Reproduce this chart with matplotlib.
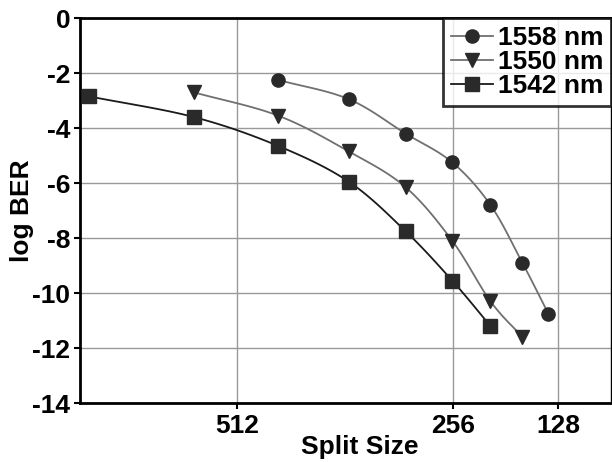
import numpy as np
import matplotlib.pyplot as plt

plt.rcParams['font.family'] = ['Liberation Sans', 'DejaVu Sans']
plt.rcParams['font.weight'] = 'bold'
plt.rcParams['axes.unicode_minus'] = False

# x positions of the measurement points (axis units, 0-100)
x_pos = [1.75, 21.4, 37.3, 50.6, 61.3, 70.1, 77.3, 83.3, 88.2]

# split size tick labels and their positions
split_labels = ['512', '256', '128']
split_pos = [29.6, 70.2, 90.1]

# log BER values per wavelength
ber_1558 = [-2.25, -2.95, -4.2, -5.25, -6.8, -8.9, -10.75]
ber_1550 = [-2.7, -3.55, -4.85, -6.15, -8.1, -10.3, -11.6]
ber_1542 = [-2.85, -3.6, -4.65, -5.95, -7.75, -9.55, -11.2]

x_1558 = x_pos[2:9]
x_1550 = x_pos[1:8]
x_1542 = x_pos[0:7]


def smooth(xs, ys, n=20):
    # catmull-rom curve through the points, like the spreadsheet "smoothed line"
    xs = np.asarray(xs, float)
    ys = np.asarray(ys, float)
    px = np.concatenate([[2 * xs[0] - xs[1]], xs, [2 * xs[-1] - xs[-2]]])
    py = np.concatenate([[2 * ys[0] - ys[1]], ys, [2 * ys[-1] - ys[-2]]])
    ox, oy = [], []
    t = np.linspace(0, 1, n, endpoint=False)
    for i in range(1, len(px) - 2):
        for p, out in ((px, ox), (py, oy)):
            p0, p1, p2, p3 = p[i - 1], p[i], p[i + 1], p[i + 2]
            out.extend(0.5 * ((2 * p1) + (-p0 + p2) * t
                              + (2 * p0 - 5 * p1 + 4 * p2 - p3) * t ** 2
                              + (-p0 + 3 * p1 - 3 * p2 + p3) * t ** 3))
    ox.append(xs[-1])
    oy.append(ys[-1])
    return ox, oy


fig = plt.figure(figsize=(6.12, 4.62), dpi=100)
ax = fig.add_axes([0.1307, 0.1277, 0.8677, 0.8333])

series = [
    (x_1558, ber_1558, 'o', '#707070', '1558 nm'),
    (x_1550, ber_1550, 'v', '#707070', '1550 nm'),
    (x_1542, ber_1542, 's', '#1a1a1a', '1542 nm'),
]
handles = []
for xs, ys, mk, lc, lab in series:
    sx, sy = smooth(xs, ys)
    ax.plot(sx, sy, color=lc, lw=1.3, zorder=2)
    ax.plot(xs, ys, ls='none', marker=mk, ms=9.5, color='#2a2a2a', zorder=3)
    h, = ax.plot([], [], color=lc, lw=1.3, marker=mk, ms=9.5,
                 markerfacecolor='#2a2a2a', markeredgecolor='#2a2a2a')
    handles.append(h)

ax.set_xlim(0, 100)
ax.set_ylim(-14, 0)
ax.set_yticks(np.arange(-14, 1, 2))
ax.set_xticks(split_pos)
ax.set_xticklabels(split_labels)
ax.grid(True, color='#999999', lw=1)
ax.set_axisbelow(True)

for s in ax.spines.values():
    s.set_color('black')
    s.set_linewidth(2)
ax.spines['right'].set_linewidth(1)
ax.tick_params(axis='both', direction='out', length=4, width=1.5,
               labelsize=19)
ax.tick_params(axis='y', pad=3)
ax.tick_params(axis='x', pad=4)

ax.set_xlabel('Split Size', fontsize=19, fontweight='bold')
ax.set_ylabel('log BER', fontsize=19, fontweight='bold')
ax.xaxis.set_label_coords(0.527, -0.083)
ax.yaxis.set_label_coords(-0.087, 0.5)

leg = ax.legend(handles=handles, labels=[s[4] for s in series],
                loc='upper right', fontsize=19, frameon=True, fancybox=False,
                borderpad=0.3, labelspacing=0.0, handlelength=1.6,
                handletextpad=0.18, borderaxespad=0)
leg.get_frame().set_edgecolor('black')
leg.get_frame().set_linewidth(2)

fig.savefig('out.png', dpi=100)
